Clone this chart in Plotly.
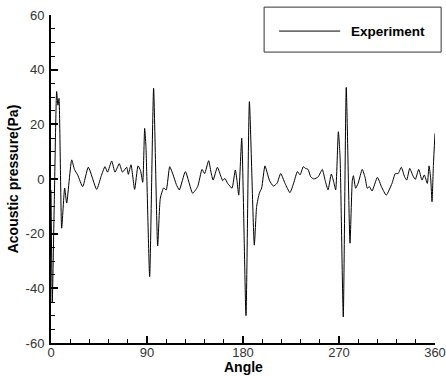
import plotly.graph_objects as go

angle = [0, 1.2, 3, 5.3, 6.5, 7.5, 10, 12.8, 14.7, 19.4, 22, 25, 29.7, 35, 42.8, 47, 50.6, 53,
         56.9, 60, 64, 67, 71, 72.5, 75, 78.4, 81.6, 84, 86, 87.8, 89, 92.5, 96.2, 100, 102.5,
         105.6, 108, 111.3, 114.5, 117.5, 120.3, 126, 132.8, 137.5, 141.6, 144, 147.8, 150, 152,
         156, 159.4, 161, 163, 165.6, 167.5, 169.7, 172.8, 174.5, 176, 178.8, 182.8, 186, 190.6,
         192.8, 195.3, 197.5, 200.6, 204.7, 208.4, 212, 215.3, 219.4, 224, 227.5, 231, 233.5,
         236.5, 238.5, 241, 243.5, 246.5, 250.5, 254.3, 257, 259.7, 262.8, 265, 266.9, 269.4,
         271, 274, 276.8, 280.3, 282.5, 283.5, 285.6, 288, 291.8, 294.5, 296.5, 298.5, 301, 306,
         310, 314.3, 319.7, 322.8, 325.5, 328.4, 331.5, 333.5, 336.3, 339.5, 341.6, 344.7, 347.8,
         350, 352.8, 354.4, 356, 357.2, 358.5, 360]
pressure = [-4, -45, -10, 32, 27, 29.5, -18, -3.3, -8.8, 7, 3.5, 1.5, -2.8, 4.3, -3.8, 1, 4.5, 2.5,
            6.6, 2.5, 5.6, 2.5, 4.3, 1.7, 5.2, -3.8, 4.8, 3, -1.2, 18.5, 12, -35.7, 33.2, -24.5, -7,
            -3.3, -4, 4.5, 1.5, -2, -4, 2.7, -5.2, -2.8, 3.5, 2, 6.7, 2.5, -0.4,
            4.3, 0.8, -0.6, 0.2, -1.6, -2.5, -3.4, 3.3, -1, -5.9, 14.9, -50, 28.3, -24.2,
            -10, -5.2, -3.3, 4.8, -0.4, -2.6, -1.5, 2, -1.6, -5, -1.5, 2.7, 1.5,
            4.5, 3.9, 3.5, 0.8, 0, 0.8, 3.5, -0.5, -4, 1.8, -1, -4, 17.3,
            8, -50.5, 33.5, -23.5, -0.4, 1.2, -3.4, -1.5, 3.5, 0.5, -3.4, -2.8, -4.4, 0.6,
            -3, -5.9, -1.6, 2, 2, 4.3, 0.8, -0.4, 3.9, 1, -0.1, 3.5, -0.4,
            1.5, -1.6, 4.8, 0, -8.3, 5, 16.7]

x_ticks = [0, 90, 180, 270, 360]
y_ticks = [-60, -40, -20, 0, 20, 40, 60]
series_name = "Experiment"
x_title = "Angle"
y_title = "Acoustic pressure(Pa)"

fig = go.Figure()
fig.add_trace(go.Scatter(x=angle, y=pressure, mode="lines", name=series_name,
                         line=dict(color="black", width=1, shape="spline", smoothing=0.5),
                         showlegend=False))

font = "Liberation Sans, Arial, sans-serif"
axis_common = dict(showline=True, linecolor="black", linewidth=2, ticks="inside",
                   ticklen=7, tickwidth=2, tickcolor="black", showgrid=False, zeroline=False,
                   tickfont=dict(family=font, size=13, color="#333333"), mirror=False,
                   automargin=False)

fig.update_xaxes(range=[0, 360], tickvals=x_ticks, ticktext=[str(v) for v in x_ticks],
                 minor=dict(ticks="inside", dtick=18, tick0=0, ticklen=4, tickwidth=1, tickcolor="black"),
                 ticklabelstandoff=-4, **axis_common)
fig.update_yaxes(range=[-60, 60], tickvals=y_ticks, ticktext=[str(v) for v in y_ticks],
                 minor=dict(ticks="inside", dtick=5, tick0=0, ticklen=4, tickwidth=1, tickcolor="black"),
                 title=dict(text="<b>" + y_title + "</b>", font=dict(family=font, size=14, color="black"), standoff=4),
                 ticklabelstandoff=2, **axis_common)

# x-axis title as annotation to sit just under the tick labels
fig.add_annotation(xref="paper", yref="paper", x=0.5, y=-0.072, text="<b>" + x_title + "</b>",
                   showarrow=False, xanchor="center", yanchor="middle",
                   font=dict(family=font, size=14, color="black"))

# legend box drawn in paper coordinates
fig.add_shape(type="rect", xref="paper", yref="paper", x0=0.555, x1=1.016, y0=0.887, y1=1.024,
              line=dict(color="#333333", width=1), fillcolor="white", layer="above")
fig.add_shape(type="line", xref="paper", yref="paper", x0=0.594, x1=0.753, y0=0.951, y1=0.951,
              line=dict(color="black", width=1), layer="above")
fig.add_annotation(xref="paper", yref="paper", x=0.878, y=0.951, text="<b>" + series_name + "</b>",
                   showarrow=False, xanchor="center", yanchor="middle",
                   font=dict(family=font, size=13.5, color="black"))

fig.update_layout(width=446, height=376, margin=dict(l=51, r=11, t=15, b=33),
                  plot_bgcolor="white", paper_bgcolor="white", showlegend=False)
fig.write_html("out.html")
